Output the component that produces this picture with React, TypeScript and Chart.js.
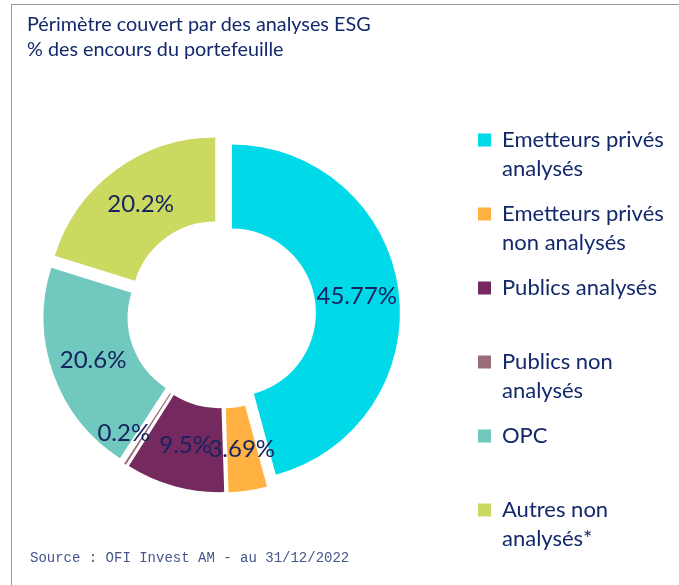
import React, { useEffect, useRef } from 'react';
import { Chart, registerables, ArcElement, DoughnutController } from 'chart.js';

Chart.register(...registerables);

// ---- data ----
const CATEGORIES: string[][] = [
  ['Emetteurs privés', 'analysés'],
  ['Emetteurs privés', 'non analysés'],
  ['Publics analysés', ''],
  ['Publics non', 'analysés'],
  ['OPC', ''],
  ['Autres non', 'analysés*'],
];
const VALUES: number[] = [45.77, 3.69, 9.5, 0.2, 20.6, 20.2];
const COLORS: string[] = ['#00D9E8', '#FFB142', '#752A5F', '#9A6E78', '#70C8BE', '#CBD961'];

// ---- styles ----
const W = 679;
const H = 585;
const EXPLODE = 10.5; // px each slice is pulled out
const LABEL_NUDGE: number[][] = [[0, 0], [0, 0], [0, 0], [-24, 4], [0, 0], [0, 0]];
const NAVY = '#14296b';
const LABEL_NAVY = '#16235f';
const LEGEND_BOX_X = 478;
const LEGEND_FIRST_Y = 140;
const LEGEND_FONT = 22;
const LEGEND_PAD = 16;

class ExplodedArc extends ArcElement {
  static id = 'explodedArc';
  draw(ctx: CanvasRenderingContext2D) {
    const mid = ((this as any).startAngle + (this as any).endAngle) / 2;
    ctx.save();
    ctx.translate(Math.cos(mid) * EXPLODE, Math.sin(mid) * EXPLODE);
    super.draw(ctx);
    ctx.restore();
  }
}

class ExplodedDoughnut extends DoughnutController {
  static id = 'explodedDoughnut';
  static defaults = { dataElementType: 'explodedArc' };
}

Chart.register(ExplodedArc as any, ExplodedDoughnut as any);

const placeLegend = {
  id: 'placeLegend',
  afterLayout(chart: any) {
    const lg = chart.legend;
    if (!lg) return;
    lg.left = LEGEND_BOX_X - LEGEND_PAD;
    lg.right = W;
    lg.top = LEGEND_FIRST_Y - LEGEND_FONT / 2 - LEGEND_PAD;
    lg.bottom = H;
  },
};

const sliceLabels = {
  id: 'sliceLabels',
  afterDatasetsDraw(chart: any) {
    const meta = chart.getDatasetMeta(0);
    const ctx: CanvasRenderingContext2D = chart.ctx;
    ctx.save();
    ctx.font = '24px Lato';
    ctx.fillStyle = LABEL_NAVY;
    ctx.textAlign = 'center';
    ctx.textBaseline = 'middle';
    meta.data.forEach((el: any, i: number) => {
      const mid = (el.startAngle + el.endAngle) / 2;
      const r = (el.innerRadius + el.outerRadius) / 2 + EXPLODE;
      const x = el.x + Math.cos(mid) * r + LABEL_NUDGE[i][0];
      const y = el.y + Math.sin(mid) * r + LABEL_NUDGE[i][1];
      ctx.fillText(`${VALUES[i]}%`, x, y);
    });
    ctx.restore();
  },
};

export default function App() {
  const ref = useRef<HTMLCanvasElement | null>(null);

  useEffect(() => {
    if (!ref.current) return;
    const chart = new Chart(ref.current, {
      type: 'explodedDoughnut' as any,
      data: {
        labels: CATEGORIES as any,
        datasets: [
          {
            data: VALUES,
            backgroundColor: COLORS,
            borderWidth: 0,
            hoverOffset: 0,
            clip: false,
          } as any,
        ],
      },
      options: {
        responsive: false,
        animation: false,
        radius: 168,
        cutout: '50%',
        layout: { padding: { left: 42, right: 178, top: 134, bottom: 91 } },
        plugins: {
          legend: {
            position: 'right',
            align: 'start',
            maxWidth: 100,
            labels: {
              boxWidth: 13,
              boxHeight: 13,
              padding: LEGEND_PAD,
              color: NAVY,
              font: { family: 'Lato', size: LEGEND_FONT, lineHeight: 29 / LEGEND_FONT },
            },
          },
          tooltip: { enabled: false },
        },
      } as any,
      plugins: [placeLegend, sliceLabels],
    });
    return () => chart.destroy();
  }, []);

  return (
    <div
      style={{
        position: 'absolute',
        left: 0,
        top: 0,
        width: W,
        height: H,
        background: '#fff',
        overflow: 'hidden',
      }}
    >
      <div
        style={{
          position: 'absolute',
          left: 11,
          top: 4,
          right: 0,
          bottom: 0,
          borderTop: '1px solid #999',
          borderLeft: '1px solid #999',
        }}
      />
      <canvas
        ref={ref}
        width={W}
        height={H}
        style={{ position: 'absolute', left: 0, top: 0, width: W, height: H }}
      />
      <div
        style={{
          position: 'absolute',
          left: 27,
          top: 11,
          fontFamily: 'Lato',
          fontSize: 19.8,
          lineHeight: '25px',
          color: NAVY,
          whiteSpace: 'nowrap',
        }}
      >
        <div>Périmètre couvert par des analyses ESG</div>
        <div>% des encours du portefeuille</div>
      </div>
      <div
        style={{
          position: 'absolute',
          left: 30,
          top: 550,
          fontFamily: '"Liberation Mono", monospace',
          fontSize: 14,
          lineHeight: '16px',
          color: '#45558a',
          whiteSpace: 'nowrap',
        }}
      >
        Source : OFI Invest AM - au 31/12/2022
      </div>
    </div>
  );
}
